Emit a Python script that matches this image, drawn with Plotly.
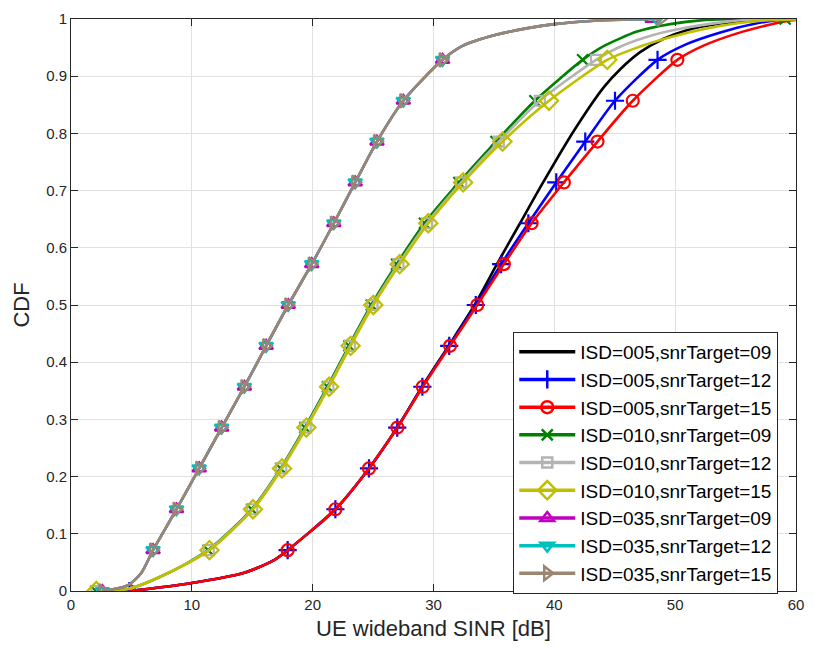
import plotly.graph_objects as go

# CDF levels at which the markers sit (every 1/14 of the samples)
LEVELS = [0.0, 0.0714, 0.1429, 0.2143, 0.2857, 0.3571, 0.4286, 0.5,
          0.5714, 0.6429, 0.7143, 0.7857, 0.8571, 0.9286, 1.0]

X_TICKS = [0, 10, 20, 30, 40, 50, 60]
Y_TICKS = [0, 0.1, 0.2, 0.3, 0.4, 0.5, 0.6, 0.7, 0.8, 0.9, 1.0]
Y_TICK_TEXT = ["0", "0.1", "0.2", "0.3", "0.4", "0.5", "0.6", "0.7", "0.8", "0.9", "1"]

# ---- ISD=005 ----
black_x = [4.83, 6.5, 8.0, 10.0, 12.7, 14.2, 15.5, 16.8, 17.93, 21.88, 24.66,
           27.0, 29.05, 31.25, 33.4, 35.25, 37.16, 39.07, 41.66, 44.1, 45.5,
           47.1, 49.0, 50.9, 53.7, 56.4, 60.5]
black_y = [0.0, 0.004, 0.008, 0.014, 0.024, 0.031, 0.041, 0.054, 0.0714,
           0.1429, 0.2143, 0.2857, 0.3571, 0.4286, 0.5, 0.5714, 0.6429, 0.7143,
           0.806, 0.881, 0.913, 0.942, 0.965, 0.980, 0.992, 0.998, 1.0]

blue_mk = [4.83, 17.93, 21.88, 24.66, 27.0, 29.08, 31.3, 33.5, 35.6, 37.85,
           40.16, 42.56, 45.02, 48.54, 62.5]
red_mk = [4.83, 17.93, 21.88, 24.66, 27.01, 29.11, 31.37, 33.62, 35.82, 38.12,
          40.79, 43.57, 46.49, 50.18, 63.0]
isd005_lo_x = [6.5, 8.0, 10.0, 12.7, 14.2, 15.5, 16.8]
isd005_lo_y = [0.004, 0.008, 0.014, 0.024, 0.031, 0.041, 0.054]
blue_hi_x = [50.94, 53.67, 56.4, 59.1]
blue_hi_y = [0.956, 0.976, 0.991, 0.9995]
red_hi_x = [52.3, 55.0, 57.8, 59.7]
red_hi_y = [0.953, 0.974, 0.990, 0.998]

# ---- ISD=010 ----
green_mk = [2.05, 11.35, 14.95, 17.35, 19.35, 21.22, 23.0, 24.85, 26.95, 29.25,
            32.1, 35.17, 38.39, 42.34, 59.1]
gray_mk = [2.1, 11.4, 15.0, 17.4, 19.42, 21.3, 23.08, 24.95, 27.1, 29.45,
           32.3, 35.4, 38.8, 43.45, 61.5]
yellow_mk = [2.1, 11.46, 15.06, 17.46, 19.48, 21.36, 23.14, 25.02, 27.2, 29.57,
             32.45, 35.71, 39.56, 44.38, 62.0]
isd010_lo_x = [4.8, 8.0]
isd010_lo_y = [0.004, 0.031]
green_hi_x = [44.12, 46.85, 49.58, 52.3, 55.5]
green_hi_y = [0.953, 0.978, 0.991, 0.998, 1.0]
gray_hi_x = [45.49, 48.2, 50.94, 53.67, 56.4]
gray_hi_y = [0.952, 0.972, 0.985, 0.9936, 0.999]
yellow_hi_x = [46.85, 49.58, 52.3, 55.0, 57.8]
yellow_hi_y = [0.950, 0.968, 0.982, 0.992, 0.998]

# ---- ISD=035 ----
magenta_mk = [2.6, 6.79, 8.73, 10.61, 12.47, 14.35, 16.15, 17.98, 19.92, 21.75,
              23.52, 25.32, 27.5, 30.75, 48.1]
cyan_mk = [2.6, 6.79, 8.73, 10.61, 12.47, 14.35, 16.15, 17.98, 19.92, 21.75,
           23.52, 25.32, 27.5, 30.75, 48.5]
brown_mk = [2.6, 6.79, 8.73, 10.61, 12.47, 14.35, 16.15, 17.98, 19.92, 21.75,
            23.52, 25.32, 27.5, 30.75, 48.8]
isd035_lo_x = [4.7, 5.8]
isd035_lo_y = [0.010, 0.031]
isd035_hi_x = [32.4, 35.1, 37.8, 40.0, 43.3, 46.0]
isd035_hi_y = [0.953, 0.972, 0.984, 0.991, 0.997, 0.999]

NAMES = ["ISD=005,snrTarget=09", "ISD=005,snrTarget=12", "ISD=005,snrTarget=15",
         "ISD=010,snrTarget=09", "ISD=010,snrTarget=12", "ISD=010,snrTarget=15",
         "ISD=035,snrTarget=09", "ISD=035,snrTarget=12", "ISD=035,snrTarget=15"]


def curve(mk, lo_x, lo_y, hi_x, hi_y):
    pts = list(zip(mk, LEVELS)) + list(zip(lo_x, lo_y)) + list(zip(hi_x, hi_y))
    pts.sort(key=lambda p: (p[1], p[0]))
    return [p[0] for p in pts], [p[1] for p in pts]


series = [
    # name, colour, symbol, size, line (x, y), marker x
    (NAMES[0], "#000000", None, 0, (black_x, black_y), None),
    (NAMES[1], "#0000ff", "cross-thin-open", 13,
     curve(blue_mk, isd005_lo_x, isd005_lo_y, blue_hi_x, blue_hi_y), blue_mk),
    (NAMES[2], "#ff0000", "circle-open", 12,
     curve(red_mk, isd005_lo_x, isd005_lo_y, red_hi_x, red_hi_y), red_mk),
    (NAMES[3], "#008000", "x-thin-open", 11,
     curve(green_mk, isd010_lo_x, isd010_lo_y, green_hi_x, green_hi_y), green_mk),
    (NAMES[4], "#b3b3b3", "square-open", 10,
     curve(gray_mk, isd010_lo_x, isd010_lo_y, gray_hi_x, gray_hi_y), gray_mk),
    (NAMES[5], "#bfbf00", "diamond-open", 14,
     curve(yellow_mk, isd010_lo_x, isd010_lo_y, yellow_hi_x, yellow_hi_y), yellow_mk),
    (NAMES[6], "#bf00bf", "triangle-up-open", 12,
     curve(magenta_mk, isd035_lo_x, isd035_lo_y, isd035_hi_x, isd035_hi_y), magenta_mk),
    (NAMES[7], "#00bfbf", "triangle-down-open", 12,
     curve(cyan_mk, isd035_lo_x, isd035_lo_y, isd035_hi_x, isd035_hi_y), cyan_mk),
    (NAMES[8], "#9c8671", "triangle-right-open", 12,
     curve(brown_mk, isd035_lo_x, isd035_lo_y, isd035_hi_x, isd035_hi_y), brown_mk),
]

LW = 2.6
fig = go.Figure()
for name, color, symbol, size, (lx, ly), mk in series:
    fig.add_trace(go.Scatter(
        x=lx, y=ly, mode="lines", showlegend=False, hoverinfo="skip",
        line=dict(color=color, width=LW, shape="spline", smoothing=0.7)))
    if mk is not None:
        fig.add_trace(go.Scatter(
            x=mk, y=LEVELS, mode="markers", showlegend=False, name=name,
            marker=dict(symbol=symbol, size=size, color=color,
                        line=dict(color=color, width=2.2))))

# legend entries (line with its marker)
for name, color, symbol, size, _, mk in series:
    if mk is None:
        fig.add_trace(go.Scatter(x=[None], y=[None], mode="lines", name=name,
                                 line=dict(color=color, width=3.5)))
    else:
        fig.add_trace(go.Scatter(
            x=[None], y=[None], mode="lines+markers", name=name,
            line=dict(color=color, width=3.5),
            marker=dict(symbol=symbol, size=size, color=color,
                        line=dict(color=color, width=2.5))))

FONT = "Liberation Sans, Arial, Helvetica, sans-serif"
AX = "#262626"
GRID = "#e0e0e0"

axis_common = dict(
    showline=True, linecolor=AX, linewidth=1, mirror="ticks",
    ticks="inside", ticklen=7, tickwidth=1, tickcolor=AX,
    showgrid=True, gridcolor=GRID, gridwidth=1, zeroline=False,
    tickfont=dict(family=FONT, size=15, color=AX),
)

fig.update_layout(
    width=814, height=655,
    margin=dict(l=71, r=10, t=13, b=64),
    paper_bgcolor="white", plot_bgcolor="white",
    font=dict(family=FONT, color=AX),
    xaxis=dict(range=[0, 60], tickvals=X_TICKS,
               title=dict(text="UE wideband SINR [dB]",
                          font=dict(family=FONT, size=22, color=AX), standoff=8),
               **axis_common),
    yaxis=dict(range=[0, 1], tickvals=Y_TICKS, ticktext=Y_TICK_TEXT,
               title=dict(text="CDF", font=dict(family=FONT, size=22, color=AX),
                          standoff=10),
               **axis_common),
    legend=dict(x=0.61, y=0.453, xanchor="left", yanchor="top",
                bgcolor="white", bordercolor=AX, borderwidth=1,
                font=dict(family=FONT, size=19, color="#000000"),
                itemwidth=56, tracegroupgap=0, itemsizing="trace"),
    showlegend=True,
)

fig.write_html("out.html")
